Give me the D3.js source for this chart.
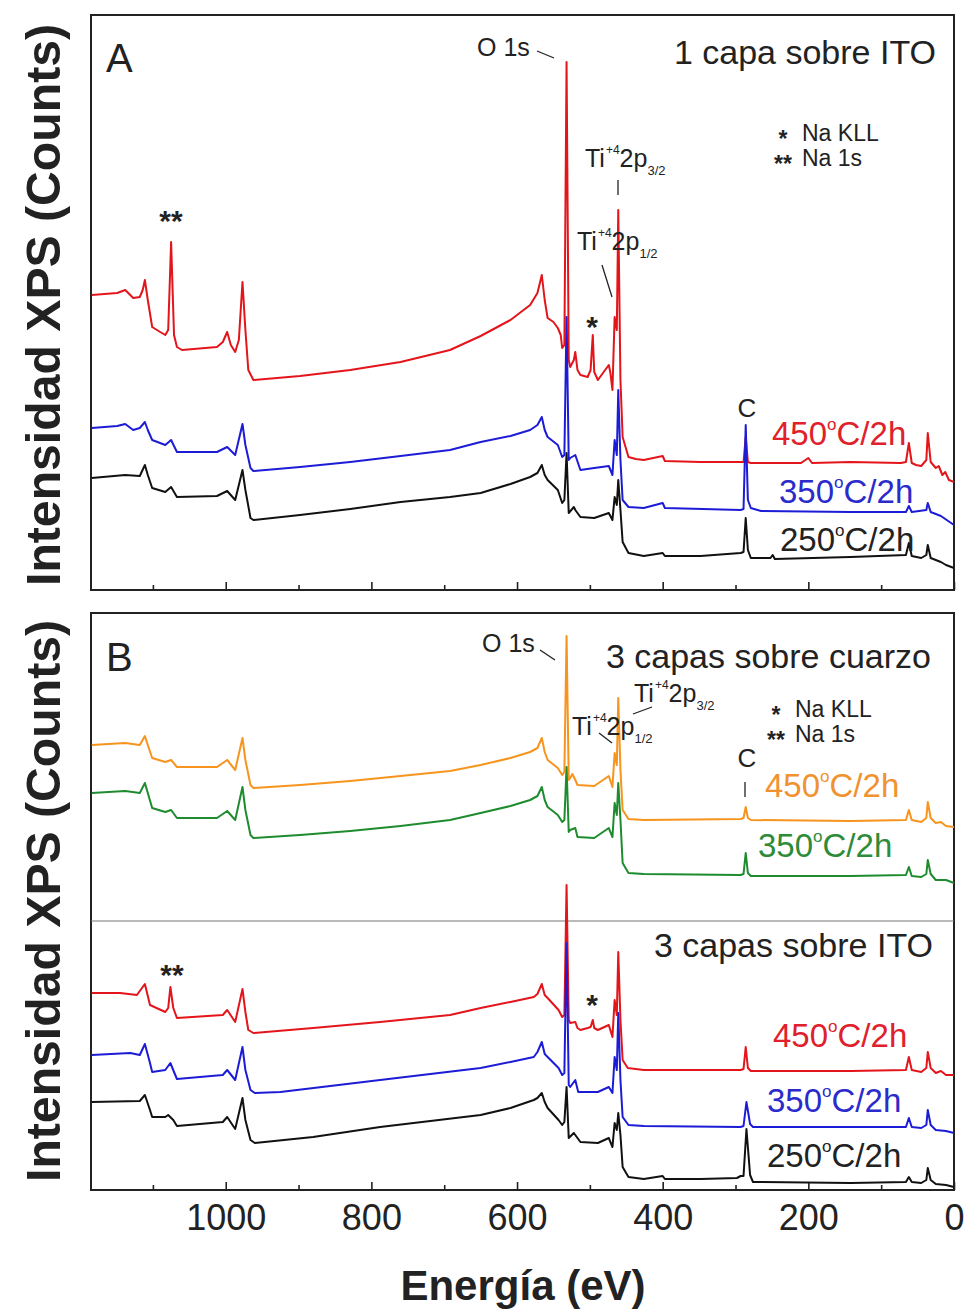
<!DOCTYPE html>
<html><head><meta charset="utf-8">
<script src="https://cdn.jsdelivr.net/npm/d3@7"></script>
<style>
body{margin:0;background:#fff}
text{font-family:"Liberation Sans",Arial,sans-serif;fill:#222}
</style></head>
<body><svg id="c" width="967" height="1311"></svg>
<script>
// ---------- data: [binding energy (eV), intensity (a.u., offset per trace)] ----------
const majorTicks = [1000, 800, 600, 400, 200, 0];
const minorTicks = [1100, 900, 700, 500, 300, 100];

// Panel A : 1 capa sobre ITO
const A_450 = [[1184,295],[1149,297],[1138,300],[1127,292],[1118,293],[1114,300],[1111,310],[1107,290],[1101,263],[1090,258],[1083,255],[1079,260],[1075,348],[1071,255],[1067,243],[1060,240],[1012,243],[1004,248],[998,258],[993,245],[987,238],[982,250],[977,308],[973,260],[969,220],[962,210],[898,214],[829,220],[760,228],[692,240],[650,254],[609,270],[582,285],[572,297],[566,315],[562,290],[558,272],[550,268],[544,262],[540,255],[538,242],[535,245],[532,528],[529,230],[527,223],[522,230],[520,238],[517,220],[513,215],[503,213],[499,220],[496,255],[494,218],[489,210],[481,218],[474,225],[472,218],[469,200],[466,273],[463,260],[461,380],[458,210],[455,153],[451,143],[447,133],[437,131],[426,130],[400,134],[397,129],[348,128],[293,128],[289,128],[286,153],[283,128],[279,127],[210,127],[200,132],[195,127],[142,128],[73,127],[66,128],[62,147],[58,127],[52,125],[45,124],[38,130],[36,157],[32,128],[25,122],[21,124],[16,115],[12,118],[7,110],[0,108]];
const A_350 = [[1184,162],[1149,164],[1138,166],[1127,160],[1118,162],[1111,168],[1107,160],[1101,150],[1083,145],[1075,150],[1067,138],[1012,138],[998,143],[987,135],[977,166],[973,145],[966,122],[962,119],[898,123],[829,128],[760,134],[692,140],[650,148],[609,154],[582,160],[572,165],[566,173],[562,160],[558,153],[544,145],[538,133],[535,135],[532,273],[529,130],[527,132],[520,135],[513,120],[494,122],[474,124],[469,115],[466,150],[463,135],[461,200],[458,130],[455,90],[447,83],[426,82],[400,87],[397,82],[293,80],[289,81],[286,165],[283,90],[279,82],[265,79],[142,78],[66,78],[62,84],[58,78],[38,80],[36,87],[32,78],[18,74],[0,65]];
const A_250 = [[1184,112],[1138,115],[1118,114],[1111,125],[1107,115],[1101,102],[1083,98],[1075,103],[1067,93],[1012,94],[998,99],[987,90],[977,120],[973,100],[966,72],[962,70],[898,75],[829,81],[760,88],[692,93],[650,97],[609,106],[582,113],[572,117],[566,125],[562,115],[558,110],[544,100],[538,87],[535,90],[532,137],[529,77],[522,83],[520,80],[513,73],[494,72],[474,77],[469,70],[466,93],[463,85],[461,110],[458,80],[455,48],[447,37],[426,34],[400,37],[397,34],[348,34],[293,37],[289,38],[286,72],[283,40],[279,32],[252,32],[249,35],[246,31],[142,33],[66,35],[62,47],[58,34],[45,32],[38,35],[36,45],[32,32],[25,30],[18,28],[11,25],[0,22]];

// Panel B (top): 3 capas sobre cuarzo
const Bq_450 = [[1184,445],[1138,447],[1118,445],[1111,454],[1107,445],[1101,432],[1083,428],[1075,430],[1067,423],[1012,423],[998,430],[987,420],[977,452],[973,430],[966,405],[962,402],[898,405],[829,409],[760,414],[692,419],[650,425],[609,432],[582,438],[572,442],[566,452],[562,438],[558,430],[544,422],[538,415],[535,418],[532,554],[529,410],[527,412],[524,416],[520,410],[517,405],[494,404],[474,414],[469,403],[466,437],[463,425],[461,492],[458,420],[455,380],[447,371],[426,370],[293,371],[289,372],[286,383],[283,372],[279,370],[142,369],[66,370],[62,380],[58,370],[45,368],[38,372],[36,388],[32,372],[25,367],[18,368],[11,364],[0,363]];
const Bq_350 = [[1184,397],[1138,399],[1118,397],[1111,407],[1107,397],[1101,382],[1083,378],[1075,380],[1067,372],[1012,372],[998,379],[987,370],[977,403],[973,380],[966,355],[962,352],[898,355],[829,359],[760,364],[692,370],[650,377],[609,384],[582,390],[572,394],[566,403],[562,390],[558,383],[544,375],[538,368],[535,370],[532,423],[529,358],[527,360],[520,362],[517,353],[494,352],[474,362],[469,353],[466,387],[463,375],[461,407],[458,370],[455,327],[447,317],[426,316],[293,315],[289,316],[286,337],[283,317],[279,314],[142,314],[66,315],[62,323],[58,314],[45,313],[38,316],[36,330],[32,316],[25,310],[11,310],[0,307]];

// Panel B (bottom): 3 capas sobre ITO
const Bi_450 = [[1184,197],[1145,197],[1122,195],[1111,206],[1104,185],[1083,178],[1079,182],[1076,203],[1072,182],[1067,172],[1004,175],[998,180],[987,168],[977,201],[973,178],[969,160],[962,157],[880,162],[788,168],[692,175],[650,182],[609,188],[577,193],[572,196],[566,206],[562,195],[558,192],[543,180],[538,173],[535,175],[532,305],[529,170],[527,167],[520,168],[517,162],[513,160],[503,162],[499,163],[496,170],[494,162],[489,160],[474,165],[469,153],[466,190],[463,175],[461,238],[458,170],[455,130],[448,122],[426,120],[293,120],[289,121],[286,143],[283,122],[279,119],[142,119],[66,120],[62,133],[58,120],[45,118],[38,122],[36,138],[32,122],[25,117],[18,119],[11,115],[0,115]];
const Bi_350 = [[1184,135],[1131,137],[1118,135],[1111,146],[1104,127],[1101,118],[1083,120],[1076,127],[1071,118],[1067,111],[1004,115],[998,120],[987,110],[977,143],[973,120],[966,100],[960,97],[925,98],[788,110],[650,122],[609,128],[577,133],[572,138],[566,148],[562,136],[558,133],[543,122],[538,115],[535,117],[532,247],[529,105],[527,103],[520,110],[516,98],[489,98],[474,103],[469,97],[466,133],[463,120],[461,177],[458,110],[455,73],[447,65],[426,64],[293,63],[289,64],[285,88],[280,66],[276,63],[142,63],[66,63],[62,72],[58,63],[45,62],[38,65],[36,80],[32,65],[25,60],[11,59],[0,57]];
const Bi_250 = [[1184,88],[1118,89],[1111,95],[1104,80],[1101,73],[1083,73],[1079,75],[1072,70],[1067,64],[1004,68],[998,73],[987,61],[977,92],[973,70],[966,50],[960,47],[880,53],[788,63],[650,75],[609,82],[577,90],[572,92],[566,97],[562,88],[558,82],[543,70],[538,65],[535,68],[532,103],[529,52],[522,57],[520,55],[513,48],[489,47],[474,52],[469,43],[466,67],[463,60],[461,77],[458,55],[455,23],[447,13],[426,11],[400,14],[397,11],[348,11],[298,12],[293,14],[289,14],[285,61],[280,15],[276,8],[142,7],[66,8],[62,13],[58,8],[45,7],[38,10],[36,22],[32,10],[25,6],[11,5],[0,3]];

const tempLabels = ["450", "350", "250"];
const legendItems = [["*", "Na KLL"], ["**", "Na 1s"]];
const colors = {r450:"#e3151b", b350:"#1c1cd6", k250:"#111111", o450:"#f7941d", g350:"#1e8c2e"};

// ---------- drawing ----------
const svg = d3.select("#c");
const x = d3.scaleLinear().domain([1185, 0]).range([91, 954]);
const yA = d3.scaleLinear().domain([0, 575]).range([590, 15]);
const yB = d3.scaleLinear().domain([0, 577]).range([1190, 613]);

function drawLine(data, y, color){
  svg.append("path").datum(data)
    .attr("fill","none").attr("stroke",color).attr("stroke-width",2)
    .attr("stroke-linejoin","round")
    .attr("d", d3.line().x(d=>x(d[0])).y(d=>y(d[1])));
}

// frames
[yA, yB].forEach(y=>{
  const [y0,y1] = y.range();
  svg.append("rect").attr("x",x.range()[0]).attr("y",y1).attr("width",x.range()[1]-x.range()[0]).attr("height",y0-y1)
    .attr("fill","none").attr("stroke","#222").attr("stroke-width",2);
});

// axes
function axis(y, labels){
  const gMaj = svg.append("g").attr("transform",`translate(0,${y.range()[0]})`)
    .call(d3.axisBottom(x).tickValues(majorTicks).tickSizeInner(-8).tickSizeOuter(0).tickPadding(14)
      .tickFormat(labels ? d3.format("d") : ""));
  gMaj.select(".domain").remove();
  gMaj.selectAll("line").attr("stroke","#222").attr("stroke-width",1.6);
  gMaj.selectAll("text").attr("font-size",36).attr("fill","#222").attr("font-family","Liberation Sans, Arial, sans-serif");
  const gMin = svg.append("g").attr("transform",`translate(0,${y.range()[0]})`)
    .call(d3.axisBottom(x).tickValues(minorTicks).tickSizeInner(-5).tickSizeOuter(0).tickFormat(""));
  gMin.select(".domain").remove();
  gMin.selectAll("line").attr("stroke","#222").attr("stroke-width",1.6);
}
axis(yA,false);
axis(yB,true);

// separator in panel B
svg.append("line").attr("x1",x.range()[0]).attr("x2",x.range()[1]).attr("y1",921).attr("y2",921)
  .attr("stroke","#777").attr("stroke-width",1.2);

// spectra
drawLine(A_450, yA, colors.r450);
drawLine(A_350, yA, colors.b350);
drawLine(A_250, yA, colors.k250);
drawLine(Bq_450, yB, colors.o450);
drawLine(Bq_350, yB, colors.g350);
drawLine(Bi_450, yB, colors.r450);
drawLine(Bi_350, yB, colors.b350);
drawLine(Bi_250, yB, colors.k250);

// ---------- text ----------
function txt(s, xx, yy, size, opts={}){
  const t = svg.append("text").attr("x",xx).attr("y",yy).attr("font-size",size).text(s);
  if(opts.anchor) t.attr("text-anchor",opts.anchor);
  if(opts.fill) t.style("fill",opts.fill);
  if(opts.weight) t.attr("font-weight",opts.weight);
  return t;
}
function seg(x1,y1,x2,y2){
  svg.append("line").attr("x1",x1).attr("y1",y1).attr("x2",x2).attr("y2",y2).attr("stroke","#222").attr("stroke-width",1.3);
}
function temp(label, xx, yy, color){
  const t = svg.append("text").attr("x",xx).attr("y",yy).attr("font-size",33).style("fill",color);
  t.append("tspan").text(label);
  t.append("tspan").attr("font-size",17).attr("dy",-15).text("o");
  t.append("tspan").attr("dy",15).text("C/2h");
}
function ti(xx, yy, sub){
  const t = svg.append("text").attr("x",xx).attr("y",yy).attr("font-size",25);
  t.append("tspan").text("Ti");
  t.append("tspan").attr("font-size",12).attr("dy",-13).attr("dx",1).text("+4");
  t.append("tspan").attr("dy",13).text("2p");
  t.append("tspan").attr("font-size",13).attr("dy",8).text(sub);
}
function legend(xText, xStar, yFirst){
  legendItems.forEach((it,i)=>{
    const t = svg.append("text").attr("x",xStar).attr("y",yFirst+i*25).attr("font-size",23).attr("text-anchor","middle");
    t.append("tspan").attr("font-weight","bold").attr("dy",6).text(it[0]);
    t.append("tspan").attr("x",xText).attr("text-anchor","start").attr("dy",-6).text(it[1]);
  });
}

// Panel A
txt("A",106,72,40);
txt("1 capa sobre ITO",936,64,34,{anchor:"end"});
txt("O 1s",477,56,25); seg(537,51,554,58);
ti(585,167,"3/2"); seg(618,180,618,195);
ti(577,250,"1/2"); seg(602,265,612,297);
txt("*",592,337,30,{anchor:"middle",weight:"bold"});
txt("**",171,231,30,{anchor:"middle",weight:"bold"});
legend(802, 783, 141);
txt("C",747,417,26,{anchor:"middle"});
temp(tempLabels[0],772,445,"#e0202a");
temp(tempLabels[1],779,503,"#2b2bcc");
temp(tempLabels[2],780,551,"#222");

// Panel B
txt("B",106,671,40);
txt("O 1s",482,652,25); seg(540,650,555,660);
txt("3 capas sobre cuarzo",931,668,34,{anchor:"end"});
ti(634,702,"3/2"); seg(633,714,652,707);
ti(572,735,"1/2"); seg(599,733,612,743);
legend(795, 776, 717);
txt("C",747,767,26,{anchor:"middle"}); seg(745,782,745,797);
temp(tempLabels[0],765,797,"#f0922e");
temp(tempLabels[1],758,857,"#2e8b3a");
txt("3 capas sobre ITO",933,957,34,{anchor:"end"});
txt("**",172,985,30,{anchor:"middle",weight:"bold"});
txt("*",592,1015,30,{anchor:"middle",weight:"bold"});
temp(tempLabels[0],773,1047,"#e0202a");
temp(tempLabels[1],767,1112,"#2b2bcc");
temp(tempLabels[2],767,1167,"#222");

// axis titles
[305, 901].forEach(cy=>{
  svg.append("text").attr("transform",`translate(60,${cy}) rotate(-90)`)
    .attr("text-anchor","middle").attr("font-size",48).attr("font-weight","bold")
    .attr("textLength",562).attr("lengthAdjust","spacingAndGlyphs")
    .text("Intensidad XPS (Counts)");
});
txt("Energía (eV)",523,1300,42,{anchor:"middle",weight:"bold"});
</script></body></html>
